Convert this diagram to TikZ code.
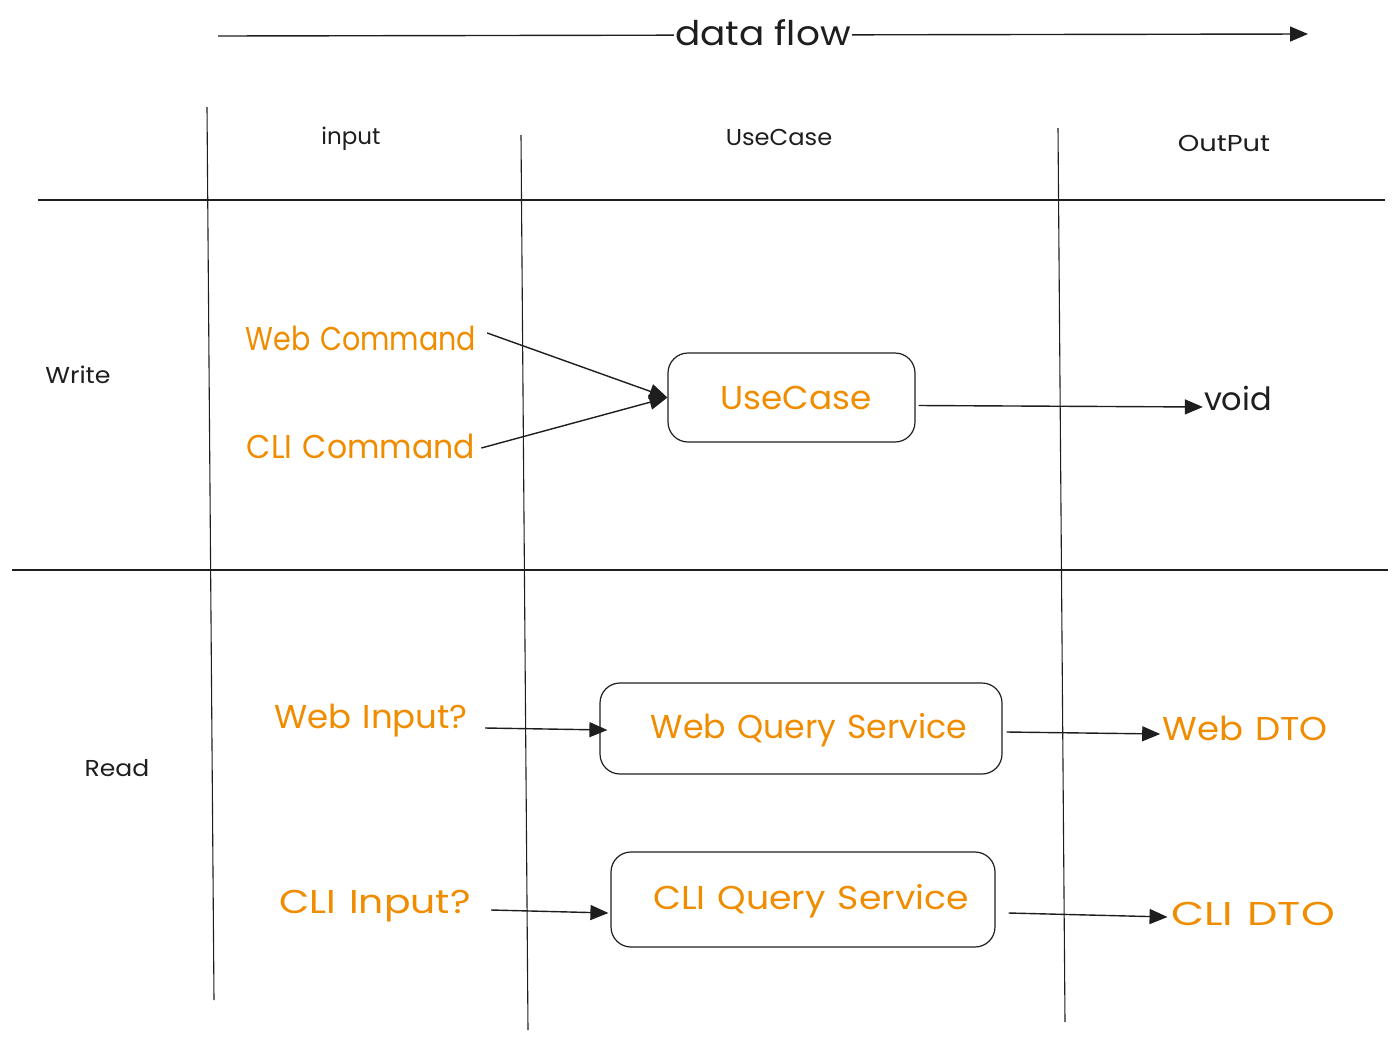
\documentclass[tikz,border=0pt]{standalone}
\usepackage{fontspec}
\setmainfont{Poppins}
\usetikzlibrary{arrows.meta,calc}
\definecolor{ink}{HTML}{1E1E1E}
\definecolor{orng}{HTML}{F08C00}
\newcommand\myorangefont{\fontsize{33}{38}\selectfont\spaceskip 11pt\relax}
\tikzset{
  grid/.style={draw=ink, line width=1.1pt},
  arr/.style={draw=ink, line width=1.4pt, -{Triangle[length=18pt,width=15pt]}},
  otext/.style={text=orng, font=\myorangefont, inner sep=1pt},
  btext/.style={text=ink, font=\fontsize{23}{27}\selectfont, inner sep=1pt},
  box/.style={draw=ink, line width=1.2pt, rounded corners=20pt, inner sep=0pt}
}
\begin{document}
\begin{tikzpicture}[x=1pt,y=-1pt]
\useasboundingbox (0,0) rectangle (1400,1042);
% data flow arrow
\coordinate (dfs) at (218,36);
\coordinate (dfe) at (1308,34);
\draw[arr] (dfs) -- (dfe);
\node[btext, fill=white, font=\fontsize{34}{40}\selectfont, xscale=1.1, inner xsep=1pt] (df) at (763,33) {data flow};
% grid
\coordinate (v1a) at (207,107); \coordinate (v1b) at (214,1000);
\coordinate (v2a) at (521,135); \coordinate (v2b) at (528,1030);
\coordinate (v3a) at (1058,128); \coordinate (v3b) at (1065,1022);
\coordinate (h1a) at (38,200); \coordinate (h1b) at (1385,200);
\coordinate (h2a) at (12,570); \coordinate (h2b) at (1388,570);
\draw[grid] (v1a) -- (v1b);
\draw[grid] (v2a) -- (v2b);
\draw[grid] (v3a) -- (v3b);
\draw[grid] (h1a) -- (h1b);
\draw[grid] (h2a) -- (h2b);
% headers
\node[btext] (hin) at (351,139) {input};
\node[btext, xscale=1.05] (huc) at (779,137) {UseCase};
\node[btext, xscale=1.19] (hout) at (1224,143) {OutPut};
\node[btext, xscale=1.1] (write) at (78,375) {Write};
\node[btext, xscale=1.09] (read) at (117,768) {Read};
% write row
\node[otext, xscale=0.865] (webcmd) at (361,338) {Web Command};
\node[otext, xscale=0.955] (clicmd) at (361,446) {CLI Command};
\node[box, minimum width=247pt, minimum height=89pt] (uc) at (791.5,397.5) {};
\node[otext, xscale=1.037] (uct) at (796,398) {UseCase};
\node[text=ink, font=\fontsize{32}{38}\selectfont, inner sep=1pt] (void) at (1238,398) {void};
\draw[arr] ($(webcmd.east)+(10,-5)$) -- (uc.west);
\draw[arr] ($(clicmd.east)+(5,2)$) -- (uc.west);
\draw[arr] ($(uc.east)+(3,8)$) -- ($(void.west)+(0,9)$);
% read row
\node[otext, xscale=1.03] (webin) at (371,721) {Web Input?};
\node[otext, xscale=1.19] (cliin) at (375,906) {CLI Input?};
\node[box, minimum width=402pt, minimum height=91pt] (wqs) at (801,728.5) {};
\node[otext, xscale=1.005] (wqst) at (809,730) {Web Query Service};
\node[box, minimum width=384pt, minimum height=95pt] (cqs) at (803,899.5) {};
\node[otext, xscale=1.097] (cqst) at (811,901) {CLI Query Service};
\node[otext, xscale=1.078] (webdto) at (1245,728) {Web DTO};
\node[otext, xscale=1.3] (clidto) at (1253,914) {CLI DTO};
\draw[arr] ($(webin.east)+(16,7)$) -- ($(wqs.west)+(8,1.5)$);
\draw[arr] ($(cliin.east)+(19,4)$) -- ($(cqs.west)+(-2,13.5)$);
\draw[arr] ($(wqs.east)+(4,3.5)$) -- ($(webdto.west)+(-1,6)$);
\draw[arr] ($(cqs.east)+(13,13.5)$) -- ($(clidto.west)+(-2,3)$);
\end{tikzpicture}
\end{document}
